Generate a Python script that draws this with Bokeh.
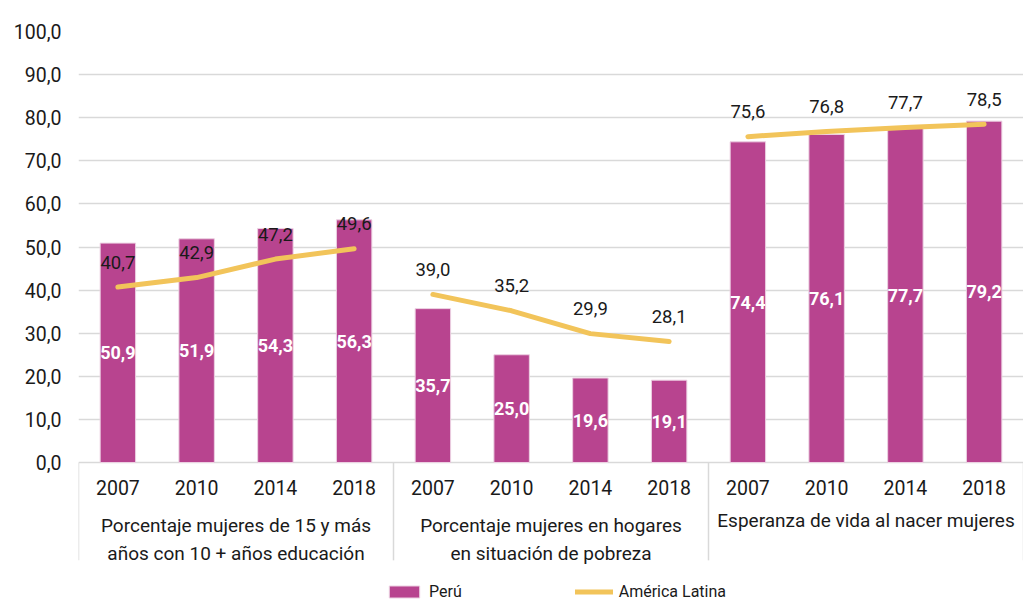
import math
from bokeh.plotting import figure
from bokeh.models import ColumnDataSource, Range1d, FixedTicker, Legend, LegendItem
from bokeh.core.properties import value
from bokeh.embed import file_html
from bokeh.resources import INLINE

# ---------------- data ----------------
years = ["2007", "2010", "2014", "2018"]
groups = [
    "Porcentaje mujeres de 15 y más\naños con 10 + años educación",
    "Porcentaje mujeres en hogares\nen situación de pobreza",
    "Esperanza de vida al nacer mujeres",
]
peru = [50.9, 51.9, 54.3, 56.3, 35.7, 25.0, 19.6, 19.1, 74.4, 76.1, 77.7, 79.2]
america_latina = [40.7, 42.9, 47.2, 49.6, 39.0, 35.2, 29.9, 28.1, 75.6, 76.8, 77.7, 78.5]
y_ticks = [0, 10, 20, 30, 40, 50, 60, 70, 80, 90, 100]

# ---------------- styles ----------------
FONT = value("Roboto")
BAR_COLOR = "#B8448F"
LINE_COLOR = "#F2C45A"
GRID_COLOR = "#d9d9d9"
TEXT_COLOR = "#1a1a1a"


def fmt(v):
    return f"{v:.1f}".replace(".", ",")


n_years = len(years)
n_groups = len(groups)
n = n_years * n_groups
xs = [i + 0.5 for i in range(n)]
year_labels = years * n_groups

p = figure(
    width=1023, height=601,
    output_backend="svg", toolbar_location=None,
    x_range=Range1d(0, n), y_range=Range1d(-32.25, 100),
    x_axis_type=None,
    min_border_left=78, min_border_right=0, min_border_top=31, min_border_bottom=0,
)
p.outline_line_color = None
p.background_fill_color = "white"

# y axis
p.yaxis.ticker = FixedTicker(ticks=y_ticks)
p.yaxis.major_label_overrides = {t: fmt(t) for t in y_ticks}
p.yaxis.axis_line_color = None
p.yaxis.major_tick_line_color = None
p.yaxis.minor_tick_line_color = None
p.yaxis.major_label_text_font = "Roboto"
p.yaxis.major_label_text_font_size = "19.5px"
p.yaxis.major_label_text_color = TEXT_COLOR
p.yaxis.major_label_standoff = 11
p.ygrid.grid_line_color = GRID_COLOR
p.ygrid.grid_line_width = 1.5

# group separators in the category area
bounds = [g * n_years for g in range(n_groups + 1)]
p.segment(x0=bounds, y0=[0] * len(bounds), x1=bounds, y1=[-22.7] * len(bounds),
          line_color=GRID_COLOR, line_width=1.5)

# bars
bar_src = ColumnDataSource(dict(x=xs, top=peru, mid=[v / 2 for v in peru],
                                lab=[fmt(v) for v in peru]))
bars = p.vbar(x="x", top="top", bottom=0, width=0.45, source=bar_src,
              fill_color=BAR_COLOR, line_color="#ecd0e2", line_width=1)
p.text(x="x", y="mid", text="lab", source=bar_src, text_font=FONT,
       text_font_size="18px", text_font_style="bold", text_color="white",
       text_align="center", text_baseline="middle")

# line (broken between groups)
lx, ly = [], []
for g in range(n_groups):
    for j in range(n_years):
        k = g * n_years + j
        lx.append(xs[k])
        ly.append(america_latina[k])
    if g < n_groups - 1:
        lx.append(float("nan"))
        ly.append(float("nan"))
line = p.line(lx, ly, line_width=5, line_color=LINE_COLOR,
              line_cap="round", line_join="round")
al_src = ColumnDataSource(dict(x=xs, y=america_latina,
                               lab=[fmt(v) for v in america_latina]))
p.text(x="x", y="y", text="lab", source=al_src, text_font=FONT,
       text_font_size="18.5px", text_color=TEXT_COLOR, text_align="center",
       text_baseline="middle", y_offset=-25)

# category labels
p.text(x=xs, y=[-5.8] * n, text=year_labels, text_font=FONT,
       text_font_size="19.5px", text_color=TEXT_COLOR,
       text_align="center", text_baseline="middle")
gx = [g * n_years + n_years / 2 for g in range(n_groups)]
n_lines = [len(gname.split("\n")) for gname in groups]
gy = [-12.0 + (0.0 if nl > 1 else 1.2) for nl in n_lines]
p.text(x=gx, y=gy, text=groups, text_font=FONT,
       text_font_size="19px", text_color=TEXT_COLOR,
       text_align="center", text_baseline="top", text_line_height=1.2)

# legend
legend = Legend(
    items=[LegendItem(label="Perú", renderers=[bars]),
           LegendItem(label="América Latina", renderers=[line])],
    location=(307, 0), orientation="horizontal", spacing=113,
    padding=0, margin=0, border_line_color=None, background_fill_alpha=0,
    glyph_width=38, glyph_height=15, label_height=15, label_standoff=6,
    label_text_font="Roboto", label_text_font_size="16px",
    label_text_color=TEXT_COLOR,
)
p.add_layout(legend)

open("out.html", "w").write(file_html(p, INLINE))
